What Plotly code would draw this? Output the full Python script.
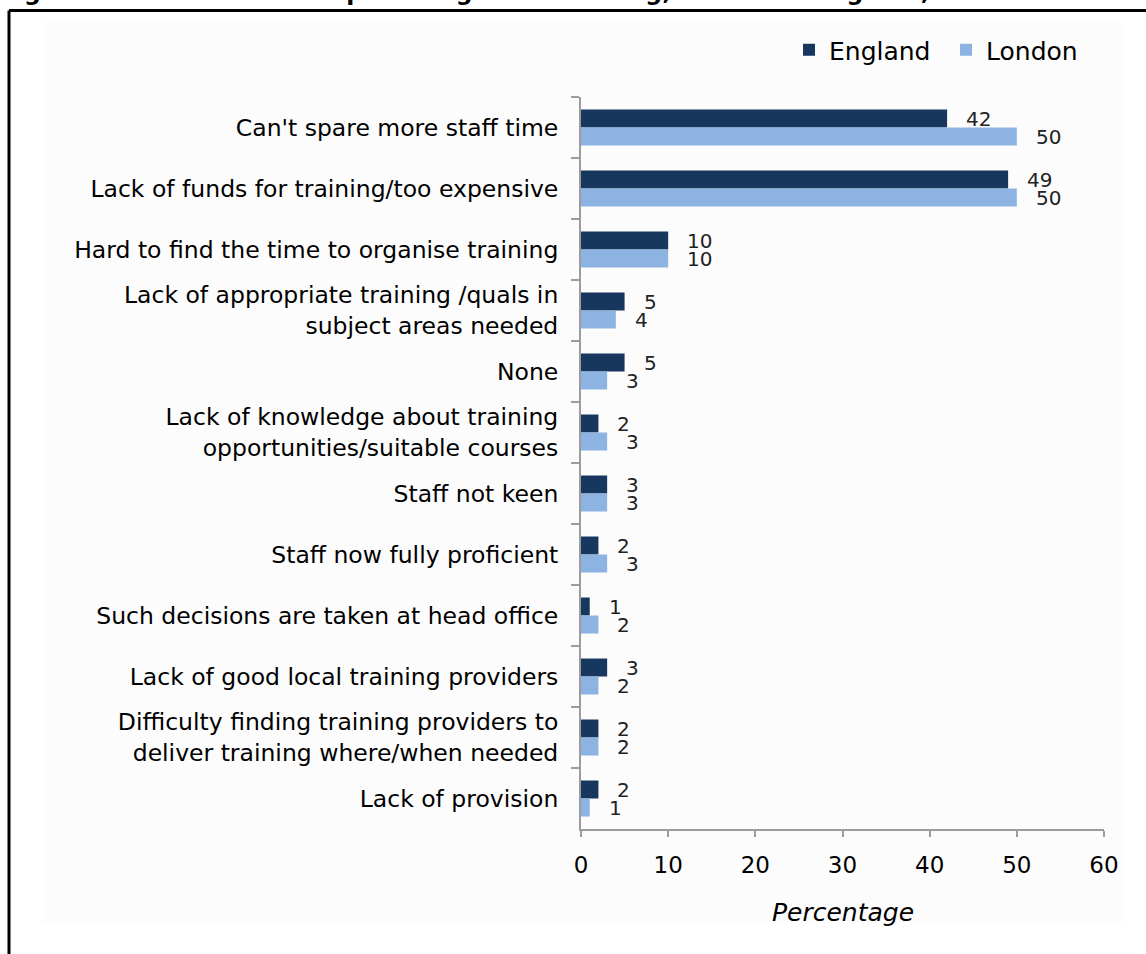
import plotly.graph_objects as go

# Barriers to providing more training, percentage of establishments
categories = [
    "Can't spare more staff time",
    "Lack of funds for training/too expensive",
    "Hard to find the time to organise training",
    "Lack of appropriate training /quals in<br>subject areas needed",
    "None",
    "Lack of knowledge about training<br>opportunities/suitable courses",
    "Staff not keen",
    "Staff now fully proficient",
    "Such decisions are taken at head office",
    "Lack of good local training providers",
    "Difficulty finding training providers to<br>deliver training where/when needed",
    "Lack of provision",
]
england = [42, 49, 10, 5, 5, 2, 3, 2, 1, 3, 2, 2]
london = [50, 50, 10, 4, 3, 3, 3, 3, 2, 2, 2, 1]
x_ticks = [0, 10, 20, 30, 40, 50, 60]

title_text = "Figure 23: Barriers to not providing more training, London & England, 2007"

W, H = 1146, 954
L, R, T, B = 581, 42, 97, 125
PW, PH = W - L - R, H - T - B


def px_x(p):
    return (p - L) / PW


def px_y(p):
    return (H - B - p) / PH


FONT = "DejaVu Sans"
DARK = "#17375E"
LIGHT = "#8DB3E2"
AXIS = "#9C9C9C"

fig = go.Figure()
fig.add_trace(go.Bar(y=categories, x=england, name="England", orientation="h",
                     marker=dict(color=DARK, line=dict(width=0))))
fig.add_trace(go.Bar(y=categories, x=london, name="London", orientation="h",
                     marker=dict(color=LIGHT, line=dict(width=0))))

annotations = []
for cat, e, l in zip(categories, england, london):
    annotations.append(dict(x=e, y=cat, xref="x", yref="y", text=str(e), showarrow=False,
                            xanchor="left", yanchor="middle", xshift=17, yshift=9,
                            font=dict(family=FONT, size=20, color="#222222")))
    annotations.append(dict(x=l, y=cat, xref="x", yref="y", text=str(l), showarrow=False,
                            xanchor="left", yanchor="middle", xshift=17, yshift=-9,
                            font=dict(family=FONT, size=20, color="#222222")))

annotations.append(dict(x=0.5, y=px_y(913), xref="paper", yref="paper", text="Percentage",
                        showarrow=False, xanchor="center", yanchor="middle",
                        font=dict(family=FONT, size=25, color="#000000", style="italic")))
annotations.append(dict(x=px_x(-2), y=px_y(8), xref="paper", yref="paper", text=title_text,
                        showarrow=False, xanchor="left", yanchor="bottom",
                        font=dict(family=FONT, size=23.5, color="#000000", weight="bold")))

shapes = [
    # chart area panel
    dict(type="rect", xref="paper", yref="paper", x0=px_x(43), x1=px_x(1123),
         y0=px_y(923), y1=px_y(22), fillcolor="#FCFCFC", line=dict(width=0), layer="below"),
    # frame lines
    dict(type="line", xref="paper", yref="paper", x0=px_x(9), x1=px_x(1160),
         y0=px_y(10.5), y1=px_y(10.5), line=dict(color="black", width=3)),
    dict(type="line", xref="paper", yref="paper", x0=px_x(9), x1=px_x(9),
         y0=px_y(10.5), y1=px_y(970), line=dict(color="black", width=3)),
]

fig.update_layout(
    width=W, height=H,
    margin=dict(l=L, r=R, t=T, b=B, autoexpand=False),
    paper_bgcolor="white", plot_bgcolor="#FCFCFC",
    barmode="group", bargap=0.41, bargroupgap=0,
    font=dict(family=FONT, color="#000000"),
    showlegend=True,
    legend=dict(orientation="h", x=px_x(789), y=px_y(50), xanchor="left", yanchor="middle",
                font=dict(family=FONT, size=25, color="#000000"), bgcolor="rgba(0,0,0,0)",
                traceorder="normal", itemwidth=30, entrywidth=112, entrywidthmode="pixels"),
    annotations=annotations,
    shapes=shapes,
)
fig.update_xaxes(range=[0, 60], tickvals=x_ticks, ticktext=[str(v) for v in x_ticks],
                 ticks="outside", ticklen=6, tickwidth=2, tickcolor=AXIS,
                 showline=True, linecolor=AXIS, linewidth=2, showgrid=False, zeroline=False,
                 tickfont=dict(family=FONT, size=23, color="#000000"), ticklabelstandoff=8)
fig.update_yaxes(type="category", autorange="reversed", ticks="outside", tickson="boundaries",
                 ticklen=8, tickwidth=2, tickcolor=AXIS, showline=True, linecolor=AXIS,
                 linewidth=2, showgrid=False, zeroline=False,
                 tickfont=dict(family=FONT, size=23.5, color="#000000"), ticklabelstandoff=16)

fig.write_html("out.html")
